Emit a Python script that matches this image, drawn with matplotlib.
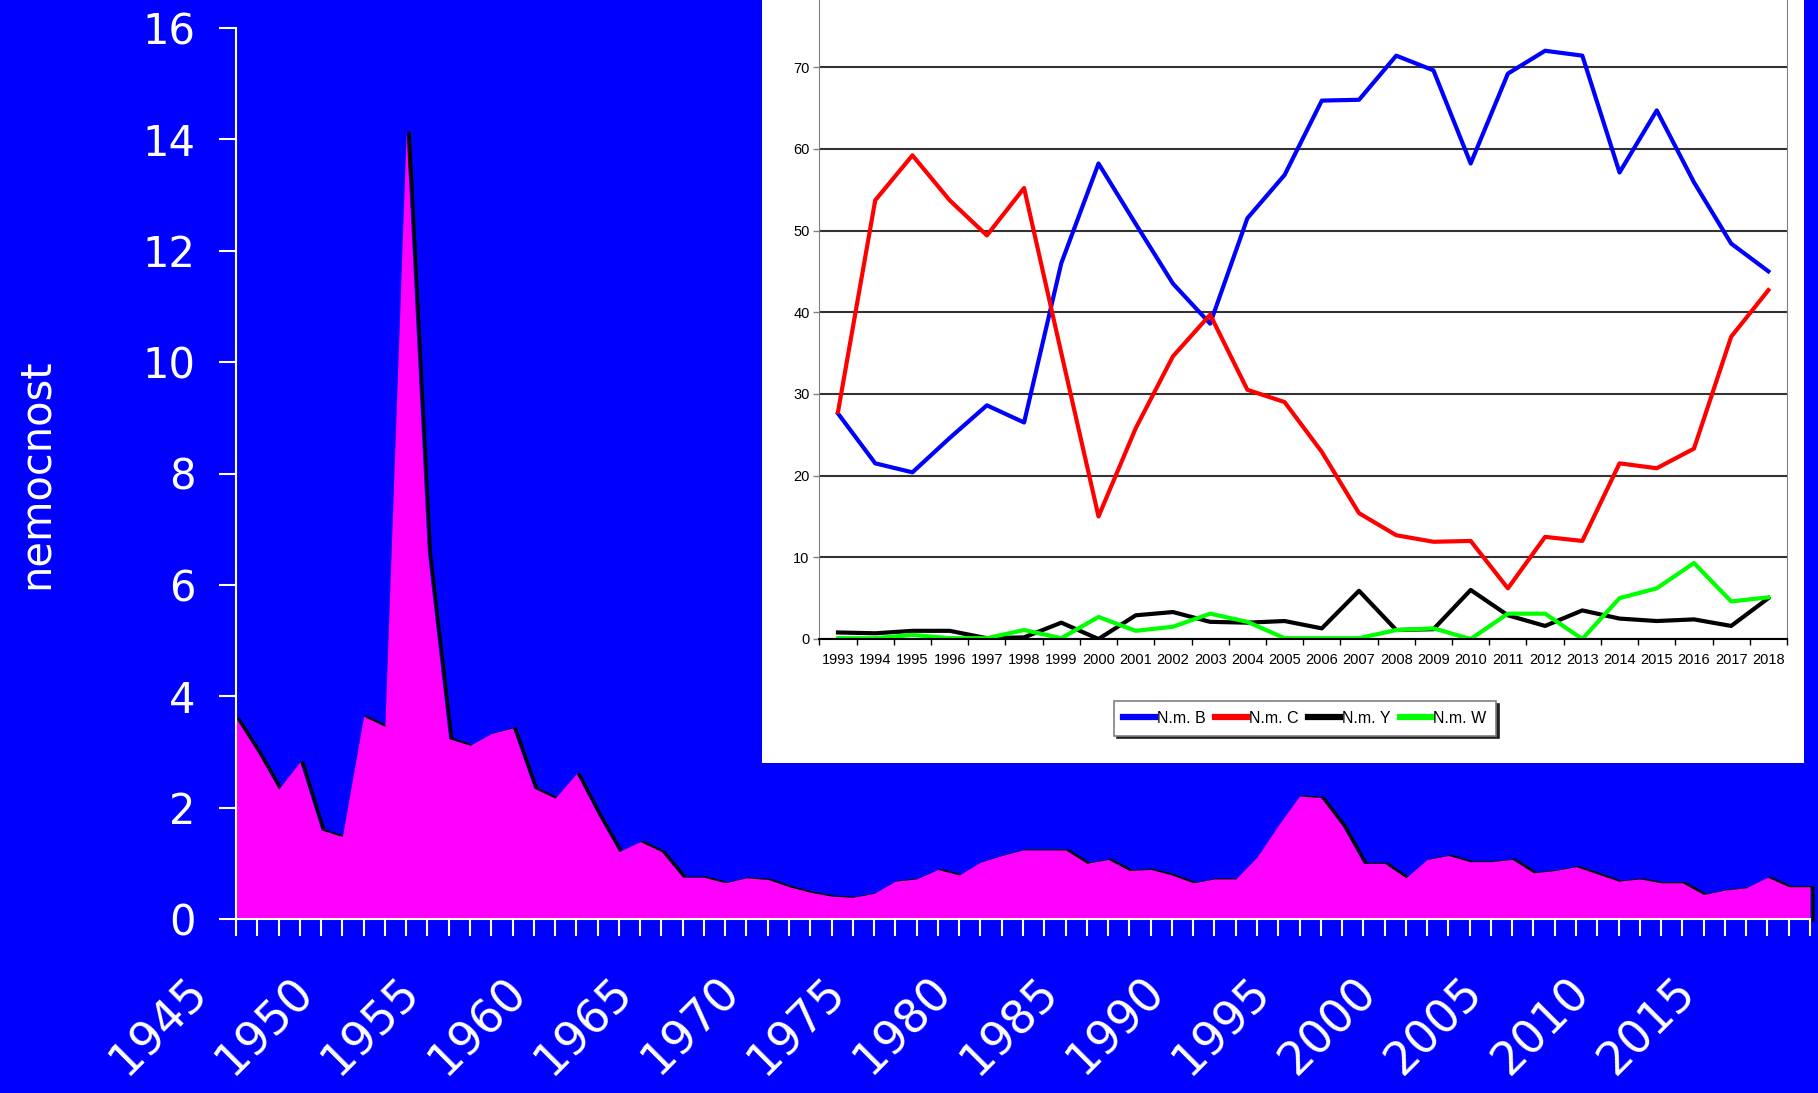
# import libraries
import numpy as np
import matplotlib
matplotlib.use('Agg')
import matplotlib.pyplot as plt
import matplotlib.transforms as mtransforms
from matplotlib import font_manager
from matplotlib.patches import Rectangle

# main chart: yearly morbidity (nemocnost) 1945-2019
years = list(range(1945, 2020))
nemocnost = [3.60, 3.00, 2.33, 2.82, 1.60, 1.48, 3.64, 3.46, 14.13, 6.57,
             3.24, 3.12, 3.33, 3.43, 2.35, 2.17, 2.61, 1.88, 1.21, 1.39,
             1.21, 0.75, 0.75, 0.65, 0.74, 0.71, 0.58, 0.48, 0.41, 0.39,
             0.46, 0.68, 0.72, 0.89, 0.79, 1.02, 1.14, 1.24, 1.24, 1.24,
             1.00, 1.07, 0.87, 0.89, 0.79, 0.65, 0.72, 0.72, 1.11, 1.68,
             2.21, 2.18, 1.68, 1.00, 1.00, 0.74, 1.07, 1.14, 1.03, 1.03,
             1.07, 0.83, 0.87, 0.94, 0.81, 0.68, 0.72, 0.65, 0.65, 0.44,
             0.52, 0.56, 0.75, 0.58, 0.58]
year_labels = list(range(1945, 2016, 5))

# inset chart: serogroup shares 1993-2018
inset_years = list(range(1993, 2019))
nm_b = [27.6, 21.5, 20.4, 24.6, 28.6, 26.5, 46.0, 58.2, 50.8, 43.5,
        38.6, 51.5, 56.8, 65.9, 66.0, 71.4, 69.6, 58.2, 69.2, 72.0,
        71.4, 57.1, 64.7, 55.9, 48.4, 45.0]
nm_c = [27.8, 53.7, 59.2, 53.7, 49.4, 55.2, 35.0, 15.0, 25.8, 34.6,
        39.7, 30.5, 29.0, 22.9, 15.4, 12.7, 11.9, 12.0, 6.2, 12.5,
        12.0, 21.5, 20.9, 23.3, 37.0, 42.7]
nm_y = [0.8, 0.7, 1.0, 1.0, 0.1, 0.2, 2.0, 0.0, 2.9, 3.3,
        2.1, 2.0, 2.2, 1.3, 5.9, 1.1, 1.2, 6.0, 2.9, 1.6,
        3.5, 2.5, 2.2, 2.4, 1.6, 5.0]
nm_w = [0.1, 0.1, 0.5, 0.1, 0.1, 1.1, 0.1, 2.7, 1.0, 1.5,
        3.1, 2.1, 0.1, 0.1, 0.1, 1.1, 1.3, 0.0, 3.1, 3.1,
        0.0, 5.0, 6.2, 9.3, 4.6, 5.1]
series_names = ['N.m. B', 'N.m. C', 'N.m. Y', 'N.m. W']

BLUE = '#0000ff'
plt.rcParams['font.family'] = ['DejaVu Sans']

# narrow font for the small inset texts (fall back to Liberation Sans)
installed = {f.name for f in font_manager.fontManager.ttflist}
if 'Liberation Sans Narrow' in installed:
    small_font, tick_size, leg_size = 'Liberation Sans Narrow', 12.5, 13.5
else:
    small_font, tick_size, leg_size = 'Liberation Sans', 10.5, 11.5

W, H = 1818, 1093
fig = plt.figure(figsize=(W / 100, H / 100), dpi=100, facecolor=BLUE)

# main area chart
ax = fig.add_axes([236 / W, 1 - 919 / H, (1810 - 236) / W, (919 - 28) / H])
ax.set_facecolor(BLUE)
shadow = mtransforms.offset_copy(ax.transData, fig=fig, x=3, y=-1, units='dots')
ax.plot(years + [years[-1]], nemocnost + [0], color='black', lw=2.4,
        transform=shadow, zorder=1, clip_on=False)
ax.fill_between(years, nemocnost, 0, color='#ff00ff', lw=0, zorder=2)

ax.set_xlim(1945, 2019)
ax.set_ylim(0, 16)
ax.set_yticks(range(0, 17, 2))
ax.set_xticks(year_labels)
ax.set_xticks(years, minor=True)
ax.tick_params(axis='both', which='both', colors='white', direction='out',
               length=12, width=1.5, labelsize=30)
ax.tick_params(axis='y', pad=17)
ax.tick_params(axis='x', pad=24, labelsize=33)
shift = mtransforms.ScaledTranslation(-0.20, 0, fig.dpi_scale_trans)
for lab in ax.get_xticklabels():
    lab.set_rotation(45)
    lab.set_ha('right')
    lab.set_va('top')
    lab.set_transform(lab.get_transform() + shift)
for side in ['top', 'right']:
    ax.spines[side].set_visible(False)
for side in ['left', 'bottom']:
    ax.spines[side].set_color('white')
    ax.spines[side].set_linewidth(1.5)
ax.set_ylabel('nemocnost', color='white', fontsize=30)
ax.yaxis.set_label_coords(-0.1137, 0.5)

# white box behind the inset
fig.add_artist(Rectangle((762 / W, 1 - 763 / H), (1804 - 762) / W, 763 / H,
                         transform=fig.transFigure, facecolor='white',
                         edgecolor='none', zorder=1))

# inset line chart
ins = fig.add_axes([819.4 / W, 1 - 639 / H, (1787 - 819.4) / W, 653.6 / H], zorder=2)
ins.set_facecolor('white')
x = np.arange(len(inset_years))
for vals, col, name in zip([nm_b, nm_c, nm_y, nm_w],
                           ['#0000ff', '#ff0000', 'black', '#00ff00'],
                           series_names):
    ins.plot(x, vals, color=col, lw=3, label=name)

ins.set_xlim(-0.5, len(inset_years) - 0.5)
ins.set_ylim(0, 80)
ins.set_yticks(range(0, 71, 10))
ins.set_xticks(x)
ins.set_xticklabels([str(y) for y in inset_years])
ins.set_xticks(np.arange(len(inset_years) + 1) - 0.5, minor=True)
ins.tick_params(axis='x', which='major', length=0, pad=10, labelsize=tick_size)
ins.tick_params(axis='x', which='minor', length=4, width=1, color='black')
ins.tick_params(axis='y', length=4, width=1, pad=3, labelsize=tick_size, color='#808080')
for lab in ins.get_xticklabels() + ins.get_yticklabels():
    lab.set_family(small_font)
# gridline at 80 lies above the picture
ins.axhline(80, color='#333333', lw=1.5)
ins.grid(axis='y', color='#333333', lw=1.5)
ins.set_axisbelow(True)
ins.spines['top'].set_visible(False)
ins.spines['left'].set_color('#808080')
ins.spines['right'].set_color('#808080')
ins.spines['bottom'].set_color('black')
ins.spines['bottom'].set_linewidth(1.5)

leg = ins.legend(loc='center', bbox_to_anchor=(1305 / W, 1 - 718.5 / H),
                 bbox_transform=fig.transFigure, ncol=4, fancybox=False,
                 edgecolor='#808080', framealpha=1,
                 prop={'family': small_font, 'size': leg_size},
                 handlelength=2.0, handletextpad=0.1, columnspacing=0.6,
                 borderpad=0.6, shadow={'color': '#202020', 'alpha': 1})
leg.get_frame().set_linewidth(1.2)
for line in leg.get_lines():
    line.set_linewidth(4.5)

# save plot
plt.savefig('out.png', dpi=100, facecolor=BLUE)
